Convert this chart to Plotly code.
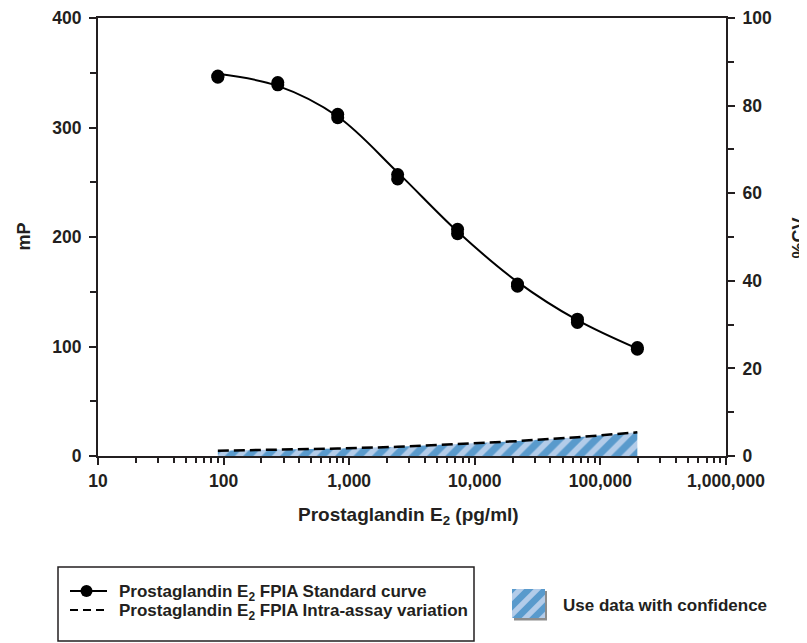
import plotly.graph_objects as go

# ---------------- data ----------------
conc = [90, 270, 810, 2430, 7290, 21870, 65610, 196830]          # pg/ml standards
mp_rep1 = [347, 341, 312, 257, 207, 157, 125, 99]                 # replicate 1 (mP)
mp_rep2 = [346, 339, 309, 253, 203, 155, 122, 97.5]               # replicate 2 (mP)
curve_mp = [349, 338, 310, 259, 205, 159, 124, 98]                # fitted standard curve (mP)
cv_pct = [1.2, 1.4, 1.7, 2.1, 2.7, 3.4, 4.3, 5.4]                  # intra-assay %CV

x_tickvals = [10, 100, 1000, 10000, 100000, 1000000]
x_ticktext = ["10", "100", "1,000", "10,000", "100,000", "1,000,000"]

legend_labels = ["Prostaglandin E<sub>2</sub> FPIA Standard curve",
                 "Prostaglandin E<sub>2</sub> FPIA Intra-assay variation"]
swatch_label = "Use data with confidence"

INK = "#231f20"
FONT = "Liberation Sans"
LIGHT = "#b3cce9"
DARK = "#0068b0"

W, H = 799, 635   # page body adds an 8px margin in the 807x643 window


def PX(x):
    return x / W


def PY(y):
    return 1 - y / H


fig = go.Figure()

# shaded confidence region (secondary axis, %CV)
fig.add_trace(go.Scatter(
    x=conc, y=cv_pct, yaxis="y2", mode="lines", fill="tozeroy",
    line=dict(width=0, color=DARK),
    fillcolor=LIGHT,
    fillpattern=dict(shape="/", bgcolor=LIGHT, fgcolor=DARK, size=13, solidity=0.55),
    showlegend=False, hoverinfo="skip",
))
# dashed intra-assay variation line
fig.add_trace(go.Scatter(
    x=conc, y=cv_pct, yaxis="y2", mode="lines",
    line=dict(color="black", width=2.5, dash="11px,5px"),
    showlegend=False,
))
# fitted curve
fig.add_trace(go.Scatter(
    x=conc, y=curve_mp, mode="lines", line=dict(color="black", width=2, shape="spline"),
    showlegend=False,
))
# replicate points
fig.add_trace(go.Scatter(
    x=conc + conc, y=mp_rep1 + mp_rep2, mode="markers",
    marker=dict(color="black", size=13),
    showlegend=False,
))
# legend swatch for the shaded region (small inset axis)
fig.add_trace(go.Bar(
    x=[0], y=[1], width=[1], xaxis="x2", yaxis="y3",
    marker=dict(color=LIGHT, line=dict(width=0),
                pattern=dict(shape="/", bgcolor=LIGHT, fgcolor=DARK, size=12, solidity=0.55)),
    showlegend=False, hoverinfo="skip",
))

minor_x = [m * 10 ** k for k in range(1, 6) for m in range(2, 10)]

tickfont = dict(size=17.5, weight="bold", color=INK, family=FONT)

shapes = [
    # legend box
    dict(type="rect", xref="paper", yref="paper", x0=PX(50), x1=PX(466), y0=PY(559), y1=PY(633),
         line=dict(color=INK, width=1.5), fillcolor="white", layer="below"),
    # standard curve sample
    dict(type="line", xref="paper", yref="paper", x0=PX(62), x1=PX(99), y0=PY(583), y1=PY(583),
         line=dict(color="black", width=2)),
    dict(type="circle", xref="paper", yref="paper", x0=PX(72.5), x1=PX(84.5), y0=PY(577), y1=PY(589),
         line=dict(color="black", width=0), fillcolor="black"),
    # intra-assay sample
    dict(type="line", xref="paper", yref="paper", x0=PX(62), x1=PX(99), y0=PY(602), y1=PY(602),
         line=dict(color="black", width=2, dash="8px,5px")),
    # swatch shadow
    dict(type="rect", xref="paper", yref="paper", x0=PX(506), x1=PX(539), y0=PY(583), y1=PY(612.5),
         line=dict(width=0), fillcolor="#8c8c8c", layer="below"),
]

annotations = [
    dict(text="Prostaglandin E<sub>2</sub> (pg/ml)", xref="paper", yref="paper",
         x=PX(400.5), y=PY(508), xanchor="center", yanchor="middle", showarrow=False,
         font=dict(size=19, weight="bold", color=INK)),
    dict(text="mP", xref="paper", yref="paper", x=PX(15.5), y=PY(229), textangle=-90,
         xanchor="center", yanchor="middle", showarrow=False,
         font=dict(size=18, weight="bold", color=INK)),
    dict(text="%CV", xref="paper", yref="paper", x=PX(791), y=PY(230.5), textangle=-90,
         xanchor="center", yanchor="middle", showarrow=False,
         font=dict(size=18, weight="bold", color=INK)),
    dict(text=legend_labels[0], xref="paper", yref="paper", x=PX(109), y=PY(585),
         xanchor="left", yanchor="middle", showarrow=False,
         font=dict(size=17, weight="bold", color=INK)),
    dict(text=legend_labels[1], xref="paper", yref="paper", x=PX(109), y=PY(604),
         xanchor="left", yanchor="middle", showarrow=False,
         font=dict(size=17, weight="bold", color=INK)),
    dict(text=swatch_label, xref="paper", yref="paper", x=PX(553), y=PY(597),
         xanchor="left", yanchor="middle", showarrow=False,
         font=dict(size=17, weight="bold", color=INK)),
]

fig.update_layout(
    width=W, height=H,
    margin=dict(l=0, r=0, t=0, b=0, autoexpand=False),
    paper_bgcolor="white", plot_bgcolor="white",
    font=dict(family=FONT, color=INK, size=16, weight="bold"),
    showlegend=False,
    bargap=0,
    xaxis=dict(
        domain=[PX(90), PX(718)], automargin=False,
        type="log", range=[1, 6],
        tickvals=x_tickvals, ticktext=x_ticktext,
        ticks="outside", ticklen=7, tickwidth=2, tickcolor=INK,
        minor=dict(tickvals=minor_x, ticks="outside", ticklen=5, tickwidth=2, tickcolor=INK),
        showline=True, linewidth=2, linecolor=INK, mirror=True,
        showgrid=False, zeroline=False,
        tickfont=tickfont, ticklabelstandoff=1,
    ),
    yaxis=dict(
        domain=[PY(448), PY(10)], automargin=False,
        range=[0, 400], dtick=100,
        ticks="outside", ticklen=7, tickwidth=2, tickcolor=INK,
        minor=dict(dtick=50, ticks="outside", ticklen=6, tickwidth=2, tickcolor=INK),
        showline=True, linewidth=2, linecolor=INK,
        showgrid=False, zeroline=False,
        tickfont=tickfont, ticklabelstandoff=4,
    ),
    yaxis2=dict(
        automargin=False,
        range=[0, 100], dtick=20, overlaying="y", side="right", anchor="x",
        ticks="outside", ticklen=7, tickwidth=2, tickcolor=INK,
        minor=dict(dtick=10, ticks="outside", ticklen=6, tickwidth=2, tickcolor=INK),
        showline=True, linewidth=2, linecolor=INK,
        showgrid=False, zeroline=False,
        tickfont=tickfont, ticklabelstandoff=4,
    ),
    xaxis2=dict(domain=[PX(504), PX(537)], range=[-0.5, 0.5], anchor="y3",
                visible=False, fixedrange=True, automargin=False),
    yaxis3=dict(domain=[PY(610), PY(581)], range=[0, 1], anchor="x2",
                visible=False, fixedrange=True, automargin=False),
    shapes=shapes,
    annotations=annotations,
)

fig.write_html("out.html")
